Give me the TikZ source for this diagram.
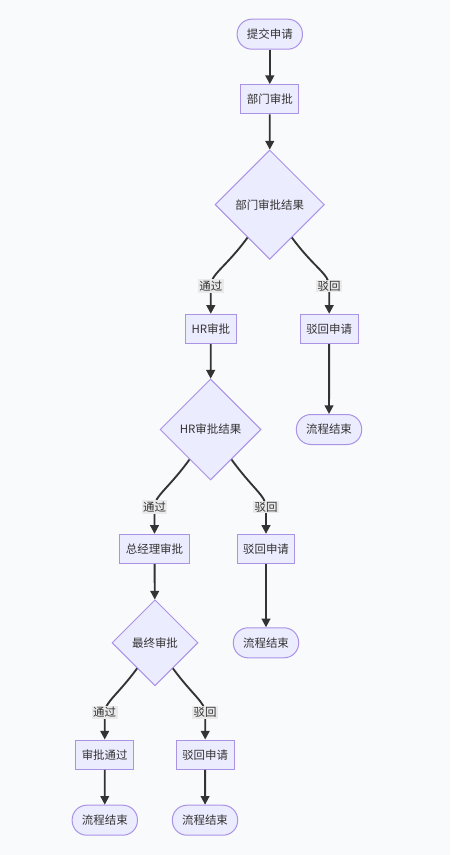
\documentclass[tikz,border=0pt]{standalone}
\usepackage{fontspec}
\setmainfont{Noto Sans CJK SC}
\usetikzlibrary{arrows.meta,shapes.geometric}
\definecolor{nodefill}{HTML}{ECECFF}
\definecolor{nodeline}{HTML}{AA92E6}
\definecolor{edgeline}{HTML}{333333}
\definecolor{labelbg}{HTML}{EAEAEA}
\definecolor{pagebg}{HTML}{F9FAFC}

\begin{document}
\begin{tikzpicture}[x=0.75pt, y=-0.75pt, >={Triangle[length=6.5pt,width=6.5pt]},
	font=\fontsize{8.6pt}{10pt}\selectfont, text=edgeline,
	base/.style={draw=nodeline, fill=nodefill, line width=0.75pt},
	term/.style={base, rounded corners=11pt, minimum width=49pt, minimum height=22.5pt},
	box/.style={base, minimum height=22pt, inner xsep=4.5pt},
	choice/.style={base, diamond, aspect=1, inner sep=1pt},
	flow/.style={->, draw=edgeline, line width=1.4pt},
	elabel/.style={fill=labelbg, inner sep=1pt}]

	\fill [pagebg] (0,0) rectangle (450,855);
	\useasboundingbox (0,0) rectangle (450,855);

	% Nodes {start, department, HR, manager, ends}
	\node [term]   (submit) at (269.8,34.2)  {提交申请};
	\node [box]    (dept)   at (269.8,99.3)  {部门审批};
	\node [choice, minimum size=82pt] (d1) at (269.7,204.7) {部门审批结果};
	\node [box]    (hr)     at (210.8,329)   {HR审批};
	\node [box]    (rej1)   at (329.2,329)   {驳回申请};
	\node [term]   (end1)   at (329,429.5)   {流程结束};
	\node [choice, minimum size=75.75pt] (d2) at (210.5,429.5) {HR审批结果};
	\node [box]    (gm)     at (154.5,549)   {总经理审批};
	\node [box]    (rej2)   at (266,549)     {驳回申请};
	\node [term]   (end2)   at (266,642.8)   {流程结束};
	\node [choice, minimum size=64.5pt] (d3) at (155,642.8) {最终审批};
	\node [box]    (ok)     at (104.7,754.7) {审批通过};
	\node [box]    (rej3)   at (205.2,754.7) {驳回申请};
	\node [term]   (end3)   at (104.8,820.2) {流程结束};
	\node [term]   (end4)   at (205,820.2)   {流程结束};

	% Paths {straight steps}
	\draw [flow] (submit) -- (dept);
	\draw [flow] (dept) -- (d1);
	\draw [flow] (hr) -- (d2);
	\draw [flow] (gm) -- (d3);
	\draw [flow] (rej1) -- (end1);
	\draw [flow] (rej2) -- (end2);
	\draw [flow] (ok) -- (end3);
	\draw [flow] (rej3) -- (end4);

	% Paths {decisions}
	\draw [flow] (d1.236) .. controls +(-22,30) and +(0,-12) .. (hr |- 0,286)
		node [elabel] {通过} -- (hr);
	\draw [flow] (d1.304) .. controls +(22,30) and +(0,-12) .. (rej1 |- 0,286)
		node [elabel] {驳回} -- (rej1);
	\draw [flow] (d2.235) .. controls +(-21,29) and +(0,-11) .. (gm |- 0,507)
		node [elabel] {通过} -- (gm);
	\draw [flow] (d2.305) .. controls +(21,29) and +(0,-11) .. (rej2 |- 0,507)
		node [elabel] {驳回} -- (rej2);
	\draw [flow] (d3.235) .. controls +(-19,26) and +(0,-10) .. (ok |- 0,712.5)
		node [elabel] {通过} -- (ok);
	\draw [flow] (d3.305) .. controls +(19,26) and +(0,-10) .. (rej3 |- 0,712.5)
		node [elabel] {驳回} -- (rej3);
\end{tikzpicture}
\end{document}
